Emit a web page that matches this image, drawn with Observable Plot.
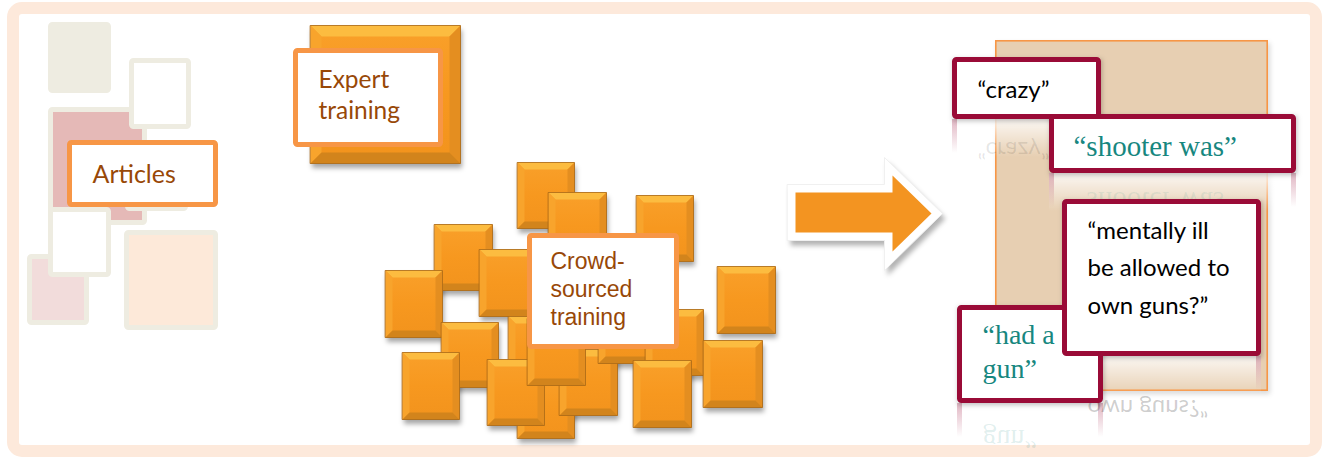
<!DOCTYPE html>
<html><head><meta charset="utf-8">
<script src="https://cdn.jsdelivr.net/npm/d3@7"></script>
<script src="https://cdn.jsdelivr.net/npm/@observablehq/plot@0.6"></script>
<style>html,body{margin:0;padding:0;background:#fff;} svg{display:block}</style>
</head><body><div id="chart"></div>
<script>
const W = 1322, H = 457;

// outer frame
const frame = [{x1: 7, y1: 2, x2: 1322, y2: 457}];

// decorative document tiles on the left
const tiles = [
  {x1: 48, y1: 22, x2: 111, y2: 93, fill: "#eeece1"},
  {x1: 48, y1: 107, x2: 147, y2: 225, fill: "#e5b9b7"},
  {x1: 27, y1: 254, x2: 89, y2: 325, fill: "#f2dcdb"},
  {x1: 124, y1: 230, x2: 218, y2: 330, fill: "#fde9d9"},
  {x1: 129, y1: 58, x2: 191, y2: 129, fill: "#ffffff"},
  {x1: 125, y1: 150, x2: 188, y2: 211, fill: "#ffffff"},
  {x1: 48, y1: 207, x2: 111, y2: 277, fill: "#ffffff"}
];

// beveled orange squares: expert + crowd
const expertSquare = [[310, 25, 460, 163]];
const crowdSquares = [
  [517, 162, 574, 228], [548, 192, 606, 258], [636, 195, 693, 261],
  [434, 224, 492, 290], [385, 270, 442, 337], [479, 249, 537, 316],
  [441, 322, 498, 387], [402, 352, 459, 419], [508, 316, 566, 382],
  [517, 372, 574, 438], [487, 359, 544, 425], [559, 349, 617, 415],
  [527, 318, 585, 385], [598, 297, 656, 363], [645, 309, 703, 375],
  [633, 360, 691, 427], [703, 340, 762, 407], [717, 266, 775, 333]
];

// white label boxes with orange border
const labelBoxes = [
  {x1: 67, y1: 140, x2: 218, y2: 207},
  {x1: 293, y1: 48, x2: 443, y2: 147},
  {x1: 527, y1: 233, x2: 679, y2: 349}
];
const calibriLabels = [
  {x: 92, y: 182, text: "Articles", size: 25},
  {x: 318, y: 118, text: "Expert\ntraining", size: 24}
];
const arialLabels = [{x: 550, y: 324, text: "Crowd-\nsourced\ntraining"}];

// arrow polygons
const arrowOutline = [[787,184],[884,184],[884,157],[942,213],[884,270],[884,240],[787,240]];
const arrowBody = [[795,192],[892,192],[892,175],[931,213],[892,251],[892,232],[795,232]];

// right panel
const panel = [{x1: 995, y1: 40, x2: 1268, y2: 391}];
const quoteBoxes = [
  {x1: 952, y1: 57, x2: 1101, y2: 119},
  {x1: 1049, y1: 114, x2: 1296, y2: 173},
  {x1: 957, y1: 305, x2: 1103, y2: 403},
  {x1: 1062, y1: 199, x2: 1261, y2: 356}
];
const sansQuotes = [
  {x: 977, y: 97, text: "“crazy”"},
  {x: 1087, y: 313, text: "“mentally ill\nbe allowed to\nown guns?”"}
];
const serifQuotes = [
  {x: 1073, y: 155, text: "“shooter was”", size: 29},
  {x: 982, y: 377, text: "“had a\ngun”", size: 28}
];
const sansReflections = [
  {x: 977, y: 141, text: "“crazy”", o: 0.10},
  {x: 1087, y: 399, text: "own guns?”", o: 0.2}
];
const serifReflections = [
  {x: 1073, y: 191, text: "“shooter was”", o: 0.10, size: 29},
  {x: 982, y: 429, text: "gun”", o: 0.14, size: 28}
];

// ---- derived geometry for the beveled squares ----
const bev = {top: "#fcbc40", left: "#f8a42c", right: "#e48e20", bottom: "#d2841c", face: "url(#faceGrad)", edge: "#a86816"};
function squareParts(sq, b, key) {
  const [x1, y1, x2, y2] = sq;
  const polys = [
    ["face", bev.face, "none", [[x1,y1],[x2,y1],[x2,y2],[x1,y2]]],
    ["top", bev.top, "none", [[x1,y1],[x2,y1],[x2-b,y1+b],[x1+b,y1+b]]],
    ["left", bev.left, "none", [[x1,y1],[x1+b,y1+b],[x1+b,y2-b],[x1,y2]]],
    ["right", bev.right, "none", [[x2,y1],[x2-b,y1+b],[x2-b,y2-b],[x2,y2]]],
    ["bottom", bev.bottom, "none", [[x1,y2],[x2,y2],[x2-b,y2-b],[x1+b,y2-b]]],
    ["edge", "none", bev.edge, [[x1,y1],[x2,y1],[x2,y2],[x1,y2]]]
  ];
  const out = [];
  for (const [name, fill, stroke, pts] of polys)
    for (const [x, y] of pts) out.push({id: key + name, x, y, fill, stroke});
  return out;
}
const squarePts = [
  ...expertSquare.flatMap((s, i) => squareParts(s, 11, "e" + i)),
  ...crowdSquares.flatMap((s, i) => squareParts(s, 7, "c" + i))
];
const allSquares = [...expertSquare, ...crowdSquares].map(([x1, y1, x2, y2]) => ({x1, y1, x2, y2}));
const toPts = (arr, id) => arr.map(([x, y]) => ({id, x, y}));

const reflectFades = quoteBoxes.map(b => ({x1: b.x1, x2: b.x2, y1: b.y2, y2: b.y2 + 38}));
const reflectEdges = quoteBoxes.flatMap(b => [
  {x1: b.x1, x2: b.x1 + 5, y1: b.y2, y2: b.y2 + 34},
  {x1: b.x2 - 5, x2: b.x2, y1: b.y2, y2: b.y2 + 34}
]);

const R = {x1: "x1", y1: "y1", x2: "x2", y2: "y2"};
const sansFont = "Lato, 'Open Sans', sans-serif";
const serifFont = "'Liberation Serif', 'Times New Roman', serif";
const brown = "#984807";
const teal = "#17877f";
const maroon = "#9a0b37";

// marks, tagged so that shadows can be blurred and reflections mirrored
const tagged = [];
const add = (mark, tag = null) => { tagged.push({mark, tag}); };

add(Plot.rect(frame, {...R, fill: "white", stroke: "#fde9db", strokeWidth: 12, inset: 6, rx: 9}));
add(Plot.rect(tiles, {...R, fill: "fill", stroke: "#eeece1", strokeWidth: 5, inset: 2.5, rx: 2}));
add(Plot.rect(labelBoxes.slice(0, 1), {...R, fill: "white", stroke: "#f79646", strokeWidth: 5, inset: 2.5, rx: 2}));
add(Plot.text(calibriLabels.slice(0, 1), {x: "x", y: "y", text: "text", fill: brown, fontSize: 25, fontFamily: sansFont, textAnchor: "start", lineAnchor: "bottom"}));
add(Plot.rect(allSquares, {...R, dx: 2, dy: 5, fill: "#000", fillOpacity: 0.35}), "shadow");
add(Plot.line(squarePts, {x: "x", y: "y", z: "id", fill: "fill", stroke: "stroke", strokeWidth: 0.8, curve: "linear-closed"}));
add(Plot.rect(labelBoxes.slice(1), {...R, fill: "white", stroke: "#f79646", strokeWidth: 5, inset: 2.5, rx: 2}));
add(Plot.text(calibriLabels.slice(1), {x: "x", y: "y", text: "text", fill: brown, fontSize: 24.5, lineHeight: 1.23, fontFamily: sansFont, textAnchor: "start", lineAnchor: "bottom"}));
add(Plot.text(arialLabels, {x: "x", y: "y", text: "text", fill: brown, fontSize: 23, lineHeight: 1.2, fontFamily: "'Liberation Sans', Arial, sans-serif", textAnchor: "start", lineAnchor: "bottom"}));
add(Plot.line(toPts(arrowOutline, "s"), {x: "x", y: "y", dx: 3, dy: 5, fill: "#000", fillOpacity: 0.3, stroke: "none", curve: "linear-closed"}), "shadow");
add(Plot.line(toPts(arrowOutline, "o"), {x: "x", y: "y", fill: "white", stroke: "#f0f0f0", strokeWidth: 1, curve: "linear-closed"}));
add(Plot.line(toPts(arrowBody, "b"), {x: "x", y: "y", fill: "#f39421", stroke: "none", curve: "linear-closed"}));
add(Plot.rect(panel, {...R, dx: 2, dy: 3, fill: "#000", fillOpacity: 0.15}), "shadow");
add(Plot.rect(panel, {...R, fill: "#e7cfb2", stroke: "#f79646", strokeWidth: 1.6, inset: 0.8}));
add(Plot.rect(reflectFades, {...R, fill: "url(#fadeWhite)"}));
add(Plot.rect(reflectEdges, {...R, fill: "url(#fadeMaroon)"}));
add(Plot.text(sansReflections, {x: "x", y: "y", text: "text", fill: "#000", fillOpacity: "o", fontSize: 24, fontFamily: sansFont, textAnchor: "start", lineAnchor: "bottom"}), "reflect");
add(Plot.text(serifReflections, {x: "x", y: "y", text: "text", fill: teal, fillOpacity: "o", fontSize: "size", fontFamily: serifFont, textAnchor: "start", lineAnchor: "bottom"}), "reflect");
add(Plot.rect(quoteBoxes, {...R, dx: 1, dy: 2, fill: "#000", fillOpacity: 0.25}), "shadow");
add(Plot.rect(quoteBoxes, {...R, fill: "white", stroke: maroon, strokeWidth: 5, inset: 2.5, rx: 2}));
add(Plot.text(sansQuotes, {x: "x", y: "y", text: "text", fill: "#000", fontSize: 24, lineHeight: 1.56, fontFamily: sansFont, textAnchor: "start", lineAnchor: "bottom"}));
add(Plot.text(serifQuotes, {x: "x", y: "y", text: "text", fill: teal, fontSize: "size", lineHeight: 1.21, fontFamily: serifFont, textAnchor: "start", lineAnchor: "bottom"}));

const svg = Plot.plot({
  width: W, height: H,
  margin: 0,
  x: {domain: [0, W], range: [0, W], axis: null},
  y: {domain: [0, H], range: [0, H], axis: null},
  color: {type: "identity"},
  style: {background: "white", overflow: "visible"},
  marks: tagged.map(d => d.mark)
});

// defs: gradients and blur filter
const s = d3.select(svg);
const defs = s.insert("defs", ":first-child");
function vgrad(id, stops) {
  const g = defs.append("linearGradient").attr("id", id).attr("x1", 0).attr("y1", 0).attr("x2", 0).attr("y2", 1);
  for (const [o, c, a] of stops) g.append("stop").attr("offset", o).attr("stop-color", c).attr("stop-opacity", a);
}
vgrad("faceGrad", [[0, "#f9a02a", 1], [0.5, "#f7981f", 1], [1, "#f2931d", 1]]);
vgrad("fadeWhite", [[0, "#ffffff", 0.85], [1, "#ffffff", 0]]);
vgrad("fadeMaroon", [[0, "#9a0b37", 0.3], [1, "#9a0b37", 0]]);
defs.append("filter").attr("id", "blur").attr("x", "-20%").attr("y", "-20%").attr("width", "140%").attr("height", "140%")
  .append("feGaussianBlur").attr("stdDeviation", 2.5);

// map marks to their rendered groups (one <g> per mark, in order)
const groups = Array.from(svg.children).filter(n => n.tagName.toLowerCase() === "g");
tagged.forEach((d, i) => {
  const g = groups[i];
  if (!g) return;
  if (d.tag === "shadow") g.setAttribute("filter", "url(#blur)");
  if (d.tag === "reflect") {
    g.querySelectorAll("text").forEach(t => {
      let tr = t.getAttribute("transform");
      if (!tr) {
        const x = t.getAttribute("x") || 0, y = t.getAttribute("y") || 0;
        t.removeAttribute("x"); t.removeAttribute("y");
        tr = `translate(${x},${y})`;
      }
      t.setAttribute("transform", tr + " scale(1,-1)");
    });
  }
});

document.getElementById("chart").appendChild(svg);
</script>
</body></html>
